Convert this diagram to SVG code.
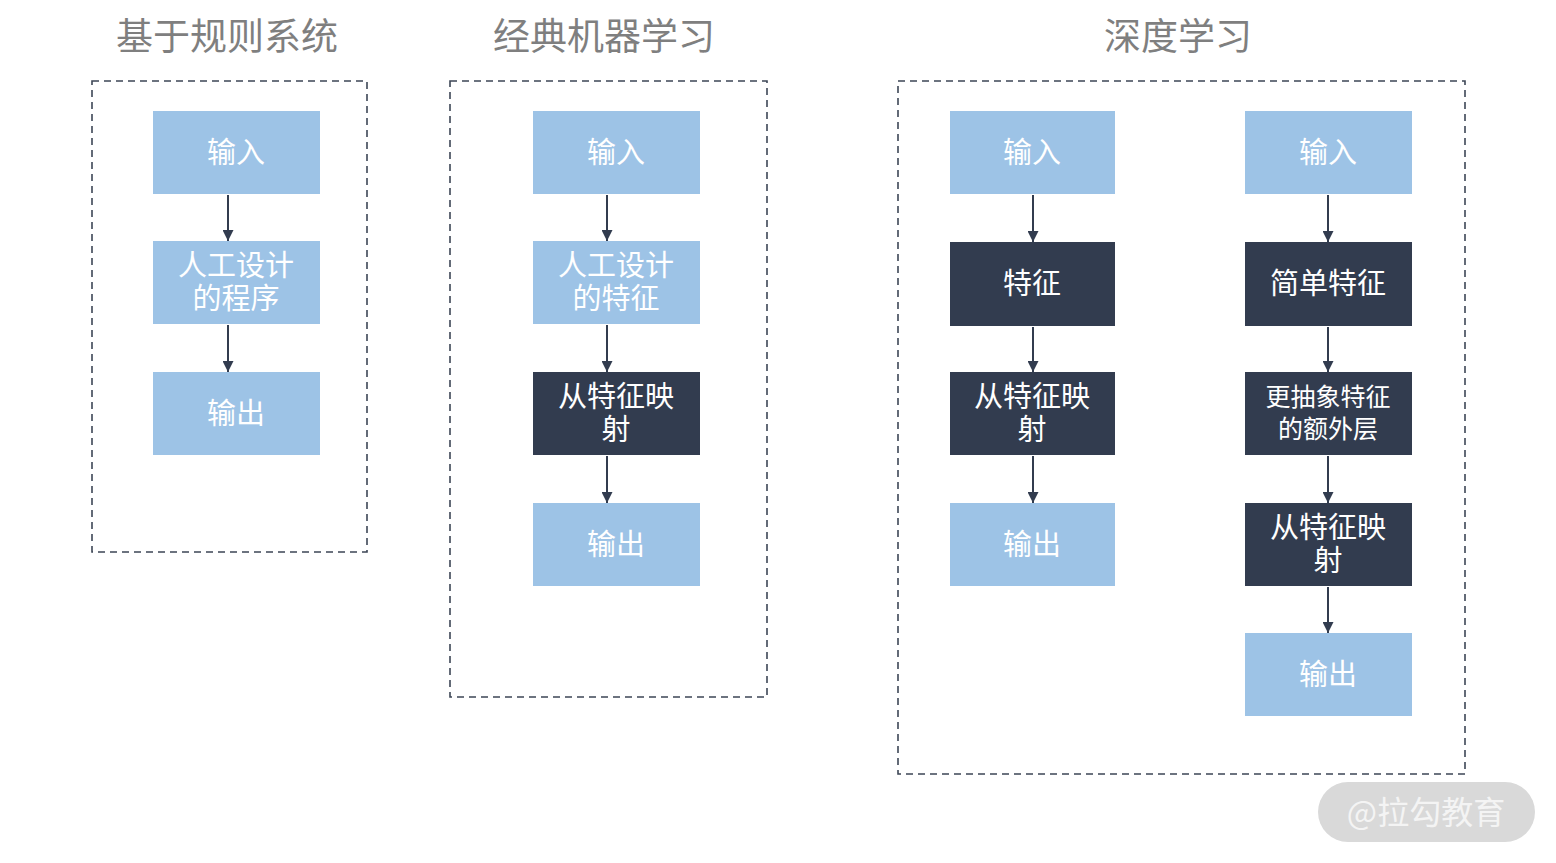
<svg xmlns="http://www.w3.org/2000/svg" width="1556" height="863" viewBox="0 0 1556 863">
<defs>
<marker id="ah" viewBox="0 0 10 10" refX="10" refY="5" markerWidth="12" markerHeight="11" markerUnits="userSpaceOnUse" orient="auto">
<path d="M0,0 L10,5 L0,10 Z" fill="#323c4f"/>
</marker>
<style>
.title{font-family:"Noto Sans CJK SC","Noto Sans",sans-serif;font-size:37px;fill:#7f7f7f;text-anchor:middle}
.frame{fill:none;stroke:#3d4656;stroke-width:1.6;stroke-dasharray:7 5}
.light{fill:#9dc3e6}
.dark{fill:#323c4f}
.t{font-family:"Liberation Sans","Noto Sans CJK SC",sans-serif;font-size:29px;fill:#ffffff;text-anchor:middle}
.ts{font-family:"Liberation Sans","Noto Sans CJK SC",sans-serif;font-size:25px;fill:#ffffff;text-anchor:middle}
.c{stroke:#323c4f;stroke-width:2;fill:none;marker-end:url(#ah)}
</style>
</defs>
<rect width="1556" height="863" fill="#ffffff"/>
<text class="title" x="227" y="50">基于规则系统</text>
<text class="title" x="604" y="50">经典机器学习</text>
<text class="title" x="1178" y="50">深度学习</text>
<rect class="frame" x="92" y="81" width="275" height="471"/>
<rect class="frame" x="450" y="81" width="317" height="616"/>
<rect class="frame" x="898" y="81" width="567" height="693"/>

<g id="connectors">
<line class="c" x1="228" y1="195" x2="228" y2="241"/>
<line class="c" x1="228" y1="325" x2="228" y2="372"/>
<line class="c" x1="607" y1="195" x2="607" y2="241"/>
<line class="c" x1="607" y1="325" x2="607" y2="372"/>
<line class="c" x1="607" y1="456" x2="607" y2="503"/>
<line class="c" x1="1033" y1="195" x2="1033" y2="242"/>
<line class="c" x1="1033" y1="327" x2="1033" y2="372"/>
<line class="c" x1="1033" y1="456" x2="1033" y2="503"/>
<line class="c" x1="1328" y1="195" x2="1328" y2="242"/>
<line class="c" x1="1328" y1="327" x2="1328" y2="372"/>
<line class="c" x1="1328" y1="456" x2="1328" y2="503"/>
<line class="c" x1="1328" y1="587" x2="1328" y2="633"/>
</g>

<g id="n1-in"><rect class="light" x="153" y="111" width="167" height="83"/><text class="t" x="236" y="163">输入</text></g>
<g id="n1-prog"><rect class="light" x="153" y="241" width="167" height="83"/><text class="t"><tspan x="236" y="276">人工设计</tspan><tspan x="236" y="309">的程序</tspan></text></g>
<g id="n1-out"><rect class="light" x="153" y="372" width="167" height="83"/><text class="t" x="236" y="424">输出</text></g>

<g id="n2-in"><rect class="light" x="533" y="111" width="167" height="83"/><text class="t" x="616" y="163">输入</text></g>
<g id="n2-feat"><rect class="light" x="533" y="241" width="167" height="83"/><text class="t"><tspan x="616" y="276">人工设计</tspan><tspan x="616" y="309">的特征</tspan></text></g>
<g id="n2-map"><rect class="dark" x="533" y="372" width="167" height="83"/><text class="t"><tspan x="616" y="407">从特征映</tspan><tspan x="616" y="440">射</tspan></text></g>
<g id="n2-out"><rect class="light" x="533" y="503" width="167" height="83"/><text class="t" x="616" y="555">输出</text></g>

<g id="n3a-in"><rect class="light" x="950" y="111" width="165" height="83"/><text class="t" x="1032" y="163">输入</text></g>
<g id="n3a-feat"><rect class="dark" x="950" y="242" width="165" height="84"/><text class="t" x="1032" y="294">特征</text></g>
<g id="n3a-map"><rect class="dark" x="950" y="372" width="165" height="83"/><text class="t"><tspan x="1032" y="407">从特征映</tspan><tspan x="1032" y="440">射</tspan></text></g>
<g id="n3a-out"><rect class="light" x="950" y="503" width="165" height="83"/><text class="t" x="1032" y="555">输出</text></g>

<g id="n3b-in"><rect class="light" x="1245" y="111" width="167" height="83"/><text class="t" x="1328" y="163">输入</text></g>
<g id="n3b-simple"><rect class="dark" x="1245" y="242" width="167" height="84"/><text class="t" x="1328" y="294">简单特征</text></g>
<g id="n3b-abs"><rect class="dark" x="1245" y="372" width="167" height="83"/><text class="ts"><tspan x="1328" y="406">更抽象特征</tspan><tspan x="1328" y="438">的额外层</tspan></text></g>
<g id="n3b-map"><rect class="dark" x="1245" y="503" width="167" height="83"/><text class="t"><tspan x="1328" y="538">从特征映</tspan><tspan x="1328" y="571">射</tspan></text></g>
<g id="n3b-out"><rect class="light" x="1245" y="633" width="167" height="83"/><text class="t" x="1328" y="685">输出</text></g>

<g id="watermark"><rect x="1318" y="782" width="217" height="60" rx="30" fill="#d9d9d9"/><text x="1426" y="824" font-family="'Noto Sans CJK SC','Noto Sans',sans-serif" font-size="32" fill="#f4f4f4" text-anchor="middle">@拉勾教育</text></g>
</svg>
